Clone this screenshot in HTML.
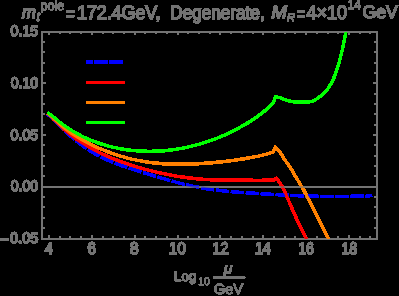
<!DOCTYPE html>
<html><head><meta charset="utf-8"><style>
html,body{margin:0;padding:0;background:#000;width:399px;height:296px;overflow:hidden}
svg{display:block;will-change:transform}
text{font-family:"Liberation Sans",sans-serif;fill:#737373;stroke:#737373;stroke-width:1.0px;text-rendering:geometricPrecision}
</style></head><body>
<svg width="399" height="296" viewBox="0 0 399 296">
<rect width="399" height="296" fill="#000"/>
<filter id="hard" x="0" y="0" width="399" height="296" filterUnits="userSpaceOnUse"><feComponentTransfer><feFuncA type="discrete" tableValues="0 1 1 1 1 1 1 1 1 1"/></feComponentTransfer></filter>
<g filter="url(#hard)">
<g fill="#737373">
<rect x="41" y="31" width="2" height="209"/>
<rect x="376" y="31" width="2" height="209"/>
<rect x="41" y="31" width="337" height="2"/>
<rect x="41" y="238" width="337" height="2"/>
<rect x="41" y="186" width="337" height="2"/>
<rect x="48.00" y="235.00" width="2.00" height="5.00"/><rect x="48.00" y="31.00" width="2.00" height="4.00"/><rect x="59.00" y="236.00" width="2.00" height="4.00"/><rect x="59.00" y="31.00" width="2.00" height="3.00"/><rect x="69.00" y="236.00" width="2.00" height="4.00"/><rect x="69.00" y="31.00" width="2.00" height="3.00"/><rect x="80.00" y="236.00" width="2.00" height="4.00"/><rect x="80.00" y="31.00" width="2.00" height="3.00"/><rect x="91.00" y="235.00" width="2.00" height="5.00"/><rect x="91.00" y="31.00" width="2.00" height="4.00"/><rect x="102.00" y="236.00" width="2.00" height="4.00"/><rect x="102.00" y="31.00" width="2.00" height="3.00"/><rect x="112.00" y="236.00" width="2.00" height="4.00"/><rect x="112.00" y="31.00" width="2.00" height="3.00"/><rect x="123.00" y="236.00" width="2.00" height="4.00"/><rect x="123.00" y="31.00" width="2.00" height="3.00"/><rect x="134.00" y="235.00" width="2.00" height="5.00"/><rect x="134.00" y="31.00" width="2.00" height="4.00"/><rect x="144.00" y="236.00" width="2.00" height="4.00"/><rect x="144.00" y="31.00" width="2.00" height="3.00"/><rect x="155.00" y="236.00" width="2.00" height="4.00"/><rect x="155.00" y="31.00" width="2.00" height="3.00"/><rect x="166.00" y="236.00" width="2.00" height="4.00"/><rect x="166.00" y="31.00" width="2.00" height="3.00"/><rect x="177.00" y="235.00" width="2.00" height="5.00"/><rect x="177.00" y="31.00" width="2.00" height="4.00"/><rect x="187.00" y="236.00" width="2.00" height="4.00"/><rect x="187.00" y="31.00" width="2.00" height="3.00"/><rect x="198.00" y="236.00" width="2.00" height="4.00"/><rect x="198.00" y="31.00" width="2.00" height="3.00"/><rect x="209.00" y="236.00" width="2.00" height="4.00"/><rect x="209.00" y="31.00" width="2.00" height="3.00"/><rect x="219.00" y="235.00" width="2.00" height="5.00"/><rect x="219.00" y="31.00" width="2.00" height="4.00"/><rect x="230.00" y="236.00" width="2.00" height="4.00"/><rect x="230.00" y="31.00" width="2.00" height="3.00"/><rect x="241.00" y="236.00" width="2.00" height="4.00"/><rect x="241.00" y="31.00" width="2.00" height="3.00"/><rect x="252.00" y="236.00" width="2.00" height="4.00"/><rect x="252.00" y="31.00" width="2.00" height="3.00"/><rect x="262.00" y="235.00" width="2.00" height="5.00"/><rect x="262.00" y="31.00" width="2.00" height="4.00"/><rect x="273.00" y="236.00" width="2.00" height="4.00"/><rect x="273.00" y="31.00" width="2.00" height="3.00"/><rect x="284.00" y="236.00" width="2.00" height="4.00"/><rect x="284.00" y="31.00" width="2.00" height="3.00"/><rect x="294.00" y="236.00" width="2.00" height="4.00"/><rect x="294.00" y="31.00" width="2.00" height="3.00"/><rect x="305.00" y="235.00" width="2.00" height="5.00"/><rect x="305.00" y="31.00" width="2.00" height="4.00"/><rect x="316.00" y="236.00" width="2.00" height="4.00"/><rect x="316.00" y="31.00" width="2.00" height="3.00"/><rect x="327.00" y="236.00" width="2.00" height="4.00"/><rect x="327.00" y="31.00" width="2.00" height="3.00"/><rect x="337.00" y="236.00" width="2.00" height="4.00"/><rect x="337.00" y="31.00" width="2.00" height="3.00"/><rect x="348.00" y="235.00" width="2.00" height="5.00"/><rect x="348.00" y="31.00" width="2.00" height="4.00"/><rect x="359.00" y="236.00" width="2.00" height="4.00"/><rect x="359.00" y="31.00" width="2.00" height="3.00"/><rect x="369.00" y="236.00" width="2.00" height="4.00"/><rect x="369.00" y="31.00" width="2.00" height="3.00"/><rect x="41.00" y="238.00" width="5.00" height="2.00"/><rect x="373.00" y="238.00" width="5.00" height="2.00"/><rect x="41.00" y="227.00" width="4.00" height="2.00"/><rect x="374.00" y="227.00" width="4.00" height="2.00"/><rect x="41.00" y="217.00" width="4.00" height="2.00"/><rect x="374.00" y="217.00" width="4.00" height="2.00"/><rect x="41.00" y="206.00" width="4.00" height="2.00"/><rect x="374.00" y="206.00" width="4.00" height="2.00"/><rect x="41.00" y="196.00" width="4.00" height="2.00"/><rect x="374.00" y="196.00" width="4.00" height="2.00"/><rect x="41.00" y="186.00" width="5.00" height="2.00"/><rect x="373.00" y="186.00" width="5.00" height="2.00"/><rect x="41.00" y="175.00" width="4.00" height="2.00"/><rect x="374.00" y="175.00" width="4.00" height="2.00"/><rect x="41.00" y="165.00" width="4.00" height="2.00"/><rect x="374.00" y="165.00" width="4.00" height="2.00"/><rect x="41.00" y="155.00" width="4.00" height="2.00"/><rect x="374.00" y="155.00" width="4.00" height="2.00"/><rect x="41.00" y="144.00" width="4.00" height="2.00"/><rect x="374.00" y="144.00" width="4.00" height="2.00"/><rect x="41.00" y="134.00" width="5.00" height="2.00"/><rect x="373.00" y="134.00" width="5.00" height="2.00"/><rect x="41.00" y="124.00" width="4.00" height="2.00"/><rect x="374.00" y="124.00" width="4.00" height="2.00"/><rect x="41.00" y="113.00" width="4.00" height="2.00"/><rect x="374.00" y="113.00" width="4.00" height="2.00"/><rect x="41.00" y="103.00" width="4.00" height="2.00"/><rect x="374.00" y="103.00" width="4.00" height="2.00"/><rect x="41.00" y="93.00" width="4.00" height="2.00"/><rect x="374.00" y="93.00" width="4.00" height="2.00"/><rect x="41.00" y="82.00" width="5.00" height="2.00"/><rect x="373.00" y="82.00" width="5.00" height="2.00"/><rect x="41.00" y="72.00" width="4.00" height="2.00"/><rect x="374.00" y="72.00" width="4.00" height="2.00"/><rect x="41.00" y="62.00" width="4.00" height="2.00"/><rect x="374.00" y="62.00" width="4.00" height="2.00"/><rect x="41.00" y="51.00" width="4.00" height="2.00"/><rect x="374.00" y="51.00" width="4.00" height="2.00"/><rect x="41.00" y="41.00" width="4.00" height="2.00"/><rect x="374.00" y="41.00" width="4.00" height="2.00"/><rect x="41.00" y="31.00" width="5.00" height="2.00"/><rect x="373.00" y="31.00" width="5.00" height="2.00"/>
</g>
<defs><clipPath id="c"><rect x="42" y="32" width="335" height="207"/></clipPath></defs>
<g clip-path="url(#c)" fill="none" stroke-linejoin="miter" stroke-miterlimit="10" stroke-width="2.8">
<path d="M47.50,114.41 L49.50,115.94 L51.50,117.67 L53.50,119.54 L55.50,121.52 L57.50,123.56 L59.50,125.60 L61.50,127.61 L63.50,129.56 L65.50,131.47 L67.50,133.33 L69.50,135.14 L71.50,136.90 L73.50,138.61 L75.50,140.27 L77.50,141.87 L79.50,143.43 L81.50,144.94 L83.50,146.39 L85.50,147.80 L87.50,149.15 L89.50,150.45 L91.50,151.70 L93.50,152.90 L95.50,154.05 L97.50,155.15 L99.50,156.21 L101.50,157.23 L103.50,158.21 L105.50,159.15 L107.50,160.06 L109.50,160.93 L111.50,161.77 L113.50,162.58 L115.50,163.37 L117.50,164.13 L119.50,164.86 L121.50,165.57 L123.50,166.27 L125.50,166.95 L127.50,167.61 L129.50,168.26 L131.50,168.90 L133.50,169.53 L135.50,170.16 L137.50,170.78 L139.50,171.40 L141.50,172.02 L143.50,172.63 L145.50,173.25 L147.50,173.86 L149.50,174.48 L151.50,175.09 L153.50,175.70 L155.50,176.30 L157.50,176.90 L159.50,177.49 L161.50,178.08 L163.50,178.67 L165.50,179.25 L167.50,179.82 L169.50,180.38 L171.50,180.93 L173.50,181.48 L175.50,182.02 L177.50,182.54 L179.50,183.06 L181.50,183.57 L183.50,184.06 L185.50,184.54 L187.50,185.01 L189.50,185.47 L191.50,185.91 L193.50,186.33 L195.50,186.75 L197.50,187.14 L199.50,187.52 L201.50,187.89 L203.50,188.24 L205.50,188.57 L207.50,188.89 L209.50,189.19 L211.50,189.48 L213.50,189.75 L215.50,190.01 L217.50,190.26 L219.50,190.50 L221.50,190.72 L223.50,190.94 L225.50,191.14 L227.50,191.34 L229.50,191.52 L231.50,191.70 L233.50,191.87 L235.50,192.03 L237.50,192.19 L239.50,192.34 L241.50,192.48 L243.50,192.62 L245.50,192.76 L247.50,192.89 L249.50,193.01 L251.50,193.14 L253.50,193.26 L255.50,193.38 L257.50,193.50 L259.50,193.61 L261.50,193.73 L263.50,193.85 L265.50,193.97 L267.50,194.08 L269.50,194.20 L271.50,194.32 L273.50,194.43 L275.50,194.54 L277.50,194.66 L279.50,194.77 L281.50,194.87 L283.50,194.98 L285.50,195.08 L287.50,195.18 L289.50,195.28 L291.50,195.38 L293.50,195.47 L295.50,195.56 L297.50,195.65 L299.50,195.73 L301.50,195.81 L303.50,195.88 L305.50,195.95 L307.50,196.01 L309.50,196.07 L311.50,196.13 L313.50,196.18 L315.50,196.22 L317.50,196.26 L319.50,196.29 L321.50,196.32 L323.50,196.34 L325.50,196.36 L327.50,196.37 L329.50,196.38 L331.50,196.38 L333.50,196.38 L335.50,196.37 L337.50,196.36 L339.50,196.35 L341.50,196.34 L343.50,196.32 L345.50,196.31 L347.50,196.29 L349.50,196.27 L351.50,196.25 L353.50,196.23 L355.50,196.21 L357.50,196.19 L359.50,196.17 L361.50,196.16 L363.50,196.14 L365.50,196.13 L367.50,196.12 L369.00,196.11 L371.90,195.20" stroke="#0000ff" stroke-dasharray="13 2" stroke-dashoffset="6.27"/>
<path d="M47.50,113.70 L49.50,115.26 L51.50,117.04 L53.50,118.96 L55.50,120.98 L57.50,123.05 L59.50,125.09 L61.50,127.06 L63.50,128.95 L65.50,130.75 L67.50,132.48 L69.50,134.13 L71.50,135.71 L73.50,137.22 L75.50,138.67 L77.50,140.06 L79.50,141.40 L81.50,142.69 L83.50,143.93 L85.50,145.12 L87.50,146.28 L89.50,147.41 L91.50,148.50 L93.50,149.57 L95.50,150.60 L97.50,151.61 L99.50,152.59 L101.50,153.55 L103.50,154.48 L105.50,155.39 L107.50,156.27 L109.50,157.13 L111.50,157.96 L113.50,158.77 L115.50,159.56 L117.50,160.33 L119.50,161.08 L121.50,161.81 L123.50,162.53 L125.50,163.22 L127.50,163.90 L129.50,164.56 L131.50,165.20 L133.50,165.83 L135.50,166.44 L137.50,167.04 L139.50,167.63 L141.50,168.20 L143.50,168.76 L145.50,169.31 L147.50,169.84 L149.50,170.36 L151.50,170.87 L153.50,171.37 L155.50,171.85 L157.50,172.32 L159.50,172.78 L161.50,173.22 L163.50,173.65 L165.50,174.07 L167.50,174.47 L169.50,174.86 L171.50,175.24 L173.50,175.60 L175.50,175.95 L177.50,176.28 L179.50,176.60 L181.50,176.91 L183.50,177.20 L185.50,177.48 L187.50,177.74 L189.50,177.99 L191.50,178.22 L193.50,178.44 L195.50,178.64 L197.50,178.83 L199.50,179.01 L201.50,179.17 L203.50,179.32 L205.50,179.45 L207.50,179.57 L209.50,179.67 L211.50,179.77 L213.50,179.85 L215.50,179.92 L217.50,179.99 L219.50,180.04 L221.50,180.09 L223.50,180.13 L225.50,180.16 L227.50,180.19 L229.50,180.21 L231.50,180.22 L233.50,180.24 L235.50,180.24 L237.50,180.25 L239.50,180.25 L241.50,180.26 L243.50,180.26 L245.50,180.26 L247.50,180.26 L249.50,180.27 L251.50,180.27 L253.50,180.28 L255.50,180.28 L257.50,180.29 L259.50,180.29 L261.50,180.28 L263.50,180.26 L265.50,180.24 L267.50,180.20 L269.50,180.15 L271.50,180.08 L273.50,180.00  L276.30,178.30 C277.05,179.28 279.48,182.22 280.80,184.20 C282.12,186.18 282.45,186.42 284.20,190.20 C285.95,193.98 288.85,201.30 291.30,206.90 C293.75,212.50 296.65,219.02 298.90,223.80 C301.15,228.58 303.37,232.57 304.80,235.60 C306.23,238.63 307.05,240.93 307.50,242.00" stroke="#ff0000"/>
<path d="M47.50,113.50 L49.50,115.09 L51.50,116.80 L53.50,118.61 L55.50,120.46 L57.50,122.32 L59.50,124.15 L61.50,125.91 L63.50,127.59 L65.50,129.19 L67.50,130.72 L69.50,132.17 L71.50,133.57 L73.50,134.90 L75.50,136.17 L77.50,137.40 L79.50,138.57 L81.50,139.70 L83.50,140.78 L85.50,141.83 L87.50,142.85 L89.50,143.84 L91.50,144.80 L93.50,145.74 L95.50,146.65 L97.50,147.54 L99.50,148.41 L101.50,149.25 L103.50,150.07 L105.50,150.86 L107.50,151.63 L109.50,152.38 L111.50,153.10 L113.50,153.80 L115.50,154.48 L117.50,155.13 L119.50,155.76 L121.50,156.36 L123.50,156.94 L125.50,157.50 L127.50,158.03 L129.50,158.54 L131.50,159.03 L133.50,159.49 L135.50,159.93 L137.50,160.34 L139.50,160.73 L141.50,161.10 L143.50,161.45 L145.50,161.77 L147.50,162.07 L149.50,162.35 L151.50,162.61 L153.50,162.84 L155.50,163.06 L157.50,163.26 L159.50,163.44 L161.50,163.59 L163.50,163.73 L165.50,163.86 L167.50,163.96 L169.50,164.05 L171.50,164.12 L173.50,164.18 L175.50,164.22 L177.50,164.24 L179.50,164.25 L181.50,164.25 L183.50,164.23 L185.50,164.20 L187.50,164.15 L189.50,164.10 L191.50,164.03 L193.50,163.95 L195.50,163.86 L197.50,163.76 L199.50,163.65 L201.50,163.53 L203.50,163.40 L205.50,163.26 L207.50,163.11 L209.50,162.95 L211.50,162.79 L213.50,162.61 L215.50,162.42 L217.50,162.23 L219.50,162.02 L221.50,161.81 L223.50,161.59 L225.50,161.35 L227.50,161.11 L229.50,160.86 L231.50,160.60 L233.50,160.33 L235.50,160.05 L237.50,159.76 L239.50,159.46 L241.50,159.15 L243.50,158.83 L245.50,158.50 L247.50,158.17 L249.50,157.82 L251.50,157.46 L253.50,157.09 L255.50,156.71 L257.50,156.30 L259.50,155.87 L261.50,155.40 L263.50,154.90 L265.50,154.37 L267.50,153.79 L269.50,153.16 L271.50,152.48 L273.50,151.74  L275.30,147.30 C275.85,147.82 277.12,148.47 278.60,150.40 C280.08,152.33 282.28,156.08 284.20,158.90 C286.12,161.72 288.28,164.48 290.10,167.30 C291.92,170.12 293.42,172.98 295.10,175.80 C296.78,178.62 298.72,181.75 300.20,184.20 C301.68,186.65 301.97,186.72 304.00,190.50 C306.03,194.28 309.58,201.35 312.40,206.90 C315.22,212.45 318.50,219.02 320.90,223.80 C323.30,228.58 325.28,232.57 326.80,235.60 C328.32,238.63 329.47,240.93 330.00,242.00" stroke="#ff8000"/>
<path d="M47.50,112.70 L49.50,114.09 L51.50,115.60 L53.50,117.19 L55.50,118.83 L57.50,120.48 L59.50,122.10 L61.50,123.67 L63.50,125.17 L65.50,126.61 L67.50,127.98 L69.50,129.29 L71.50,130.55 L73.50,131.75 L75.50,132.89 L77.50,133.99 L79.50,135.04 L81.50,136.04 L83.50,137.00 L85.50,137.92 L87.50,138.80 L89.50,139.64 L91.50,140.45 L93.50,141.23 L95.50,141.98 L97.50,142.69 L99.50,143.37 L101.50,144.03 L103.50,144.65 L105.50,145.24 L107.50,145.80 L109.50,146.33 L111.50,146.83 L113.50,147.31 L115.50,147.75 L117.50,148.17 L119.50,148.56 L121.50,148.92 L123.50,149.25 L125.50,149.56 L127.50,149.84 L129.50,150.10 L131.50,150.33 L133.50,150.54 L135.50,150.72 L137.50,150.87 L139.50,151.00 L141.50,151.11 L143.50,151.19 L145.50,151.25 L147.50,151.29 L149.50,151.30 L151.50,151.29 L153.50,151.26 L155.50,151.20 L157.50,151.12 L159.50,151.02 L161.50,150.89 L163.50,150.74 L165.50,150.57 L167.50,150.37 L169.50,150.15 L171.50,149.91 L173.50,149.64 L175.50,149.35 L177.50,149.04 L179.50,148.70 L181.50,148.34 L183.50,147.96 L185.50,147.56 L187.50,147.13 L189.50,146.68 L191.50,146.21 L193.50,145.72 L195.50,145.20 L197.50,144.66 L199.50,144.10 L201.50,143.51 L203.50,142.90 L205.50,142.27 L207.50,141.62 L209.50,140.94 L211.50,140.23 L213.50,139.51 L215.50,138.75 L217.50,137.97 L219.50,137.17 L221.50,136.34 L223.50,135.48 L225.50,134.60 L227.50,133.69 L229.50,132.75 L231.50,131.79 L233.50,130.79 L235.50,129.77 L237.50,128.72 L239.50,127.63 L241.50,126.52 L243.50,125.38 L245.50,124.21 L247.50,123.00 L249.50,121.77 L251.50,120.50 L253.50,119.20 L255.50,117.85 L257.50,116.45 L259.50,114.99 L261.50,113.47 L263.50,111.87 L265.50,110.19 L267.50,108.42 L269.50,106.56 L271.50,104.59 L273.50,102.52  L275.30,97.00 C276.08,97.12 278.55,97.33 280.00,97.70 C281.45,98.07 282.33,98.62 284.00,99.20 C285.67,99.78 287.95,100.72 290.00,101.20 C292.05,101.68 294.22,101.93 296.30,102.10 C298.38,102.27 300.42,102.22 302.50,102.20 C304.58,102.18 306.72,102.38 308.80,102.00 C310.88,101.62 312.92,100.98 315.00,99.90 C317.08,98.82 319.20,97.28 321.30,95.50 C323.40,93.72 325.63,91.83 327.60,89.20 C329.57,86.57 331.67,82.65 333.10,79.70 C334.53,76.75 335.22,74.28 336.20,71.50 C337.18,68.72 338.15,65.92 339.00,63.00 C339.85,60.08 340.60,56.88 341.30,54.00 C342.00,51.12 342.45,49.23 343.20,45.70 C343.95,42.17 345.08,36.33 345.80,32.80 C346.52,29.27 347.22,25.88 347.50,24.50" stroke="#00ff00"/>
</g>
<rect x="41" y="186" width="337" height="2" fill="#737373" opacity="0.5"/>
<g>
<rect x="86" y="60" width="6.9" height="3.6" fill="#0000ff"/>
<rect x="94" y="60" width="13.8" height="3.6" fill="#0000ff"/>
<rect x="109" y="60" width="14" height="3.6" fill="#0000ff"/>
<rect x="86" y="81" width="39" height="3" fill="#ff0000"/>
<rect x="86" y="101" width="39" height="3" fill="#ff8000"/>
<rect x="86" y="121" width="39" height="3" fill="#00ff00"/>
</g>
<g>
<text id="t_m" x="21.97" y="18.00" font-size="17.6" font-style="italic" textLength="13.75" lengthAdjust="spacingAndGlyphs">m</text>
<text id="t_t" x="36.47" y="21.10" font-size="13" font-style="italic" style="stroke-width:0.55px" textLength="3.26" lengthAdjust="spacingAndGlyphs">t</text>
<text id="t_pole" x="40.47" y="9.90" font-size="13.3" style="stroke-width:0.55px" textLength="23.90" lengthAdjust="spacingAndGlyphs">pole</text>
<text id="t_eq" x="66.21" y="19.60" font-size="19" textLength="8.39" lengthAdjust="spacingAndGlyphs">=</text>
<text id="t_172" x="76.95" y="18.50" font-size="19.3" textLength="83.62" lengthAdjust="spacingAndGlyphs">172.4GeV,</text>
<text id="t_deg" x="170.25" y="18.50" font-size="19.3" textLength="94.40" lengthAdjust="spacingAndGlyphs">Degenerate,</text>
<text id="t_M" x="271.46" y="18.20" font-size="17.8" font-style="italic" textLength="15.27" lengthAdjust="spacingAndGlyphs">M</text>
<text id="t_R" x="286.72" y="20.70" font-size="11" font-style="italic" style="stroke-width:0.55px" textLength="8.42" lengthAdjust="spacingAndGlyphs">R</text>
<text id="t_eq4" x="296.77" y="19.60" font-size="19" textLength="8.55" lengthAdjust="spacingAndGlyphs">=</text>
<text id="t_410" x="306.41" y="18.50" font-size="19.3" textLength="40.55" lengthAdjust="spacingAndGlyphs">4×10</text>
<text id="t_14" x="347.63" y="9.30" font-size="13.0" style="stroke-width:0.55px" textLength="13.09" lengthAdjust="spacingAndGlyphs">14</text>
<text id="t_GeV" x="362.49" y="18.00" font-size="18.0" textLength="35.16" lengthAdjust="spacingAndGlyphs">GeV</text>
<text id="a_log" x="174.06" y="281.40" font-size="13.8" style="stroke-width:0.6px" textLength="22.27" lengthAdjust="spacingAndGlyphs">Log</text>
<text id="a_10" x="198.31" y="285.20" font-size="11" style="stroke-width:0.55px" textLength="11.39" lengthAdjust="spacingAndGlyphs">10</text>
<text id="a_mu" x="223.75" y="272.50" font-size="14" font-style="italic" style="stroke-width:0.6px" textLength="8.57" lengthAdjust="spacingAndGlyphs">μ</text>
<text id="a_gev" x="213.70" y="293.60" font-size="14.5" style="stroke-width:0.6px" textLength="29.44" lengthAdjust="spacingAndGlyphs">GeV</text>
<text id="y015" x="10.55" y="36.00" font-size="15.3" textLength="27.65" lengthAdjust="spacingAndGlyphs">0.15</text>
<text id="y010" x="10.66" y="87.83" font-size="15.3" textLength="27.43" lengthAdjust="spacingAndGlyphs">0.10</text>
<text id="y005" x="10.55" y="139.66" font-size="15.3" textLength="27.65" lengthAdjust="spacingAndGlyphs">0.05</text>
<text id="y000" x="10.66" y="191.10" font-size="15.3" textLength="27.39" lengthAdjust="spacingAndGlyphs">0.00</text>
<text id="ym05" x="10.04" y="242.53" font-size="15.3" textLength="28.30" lengthAdjust="spacingAndGlyphs">0.05</text>
<text id="x4" x="44.89" y="254.10" font-size="16.8" textLength="7.95" lengthAdjust="spacingAndGlyphs">4</text>
<text id="x6" x="87.53" y="254.10" font-size="16.8" textLength="8.51" lengthAdjust="spacingAndGlyphs">6</text>
<text id="x8" x="129.79" y="254.10" font-size="16.8" textLength="8.95" lengthAdjust="spacingAndGlyphs">8</text>
<text id="x10" x="169.10" y="254.10" font-size="16.8" textLength="16.75" lengthAdjust="spacingAndGlyphs">10</text>
<text id="x12" x="212.34" y="254.10" font-size="16.8" textLength="16.17" lengthAdjust="spacingAndGlyphs">12</text>
<text id="x14" x="254.94" y="254.10" font-size="16.8" textLength="15.81" lengthAdjust="spacingAndGlyphs">14</text>
<text id="x16" x="298.18" y="254.10" font-size="16.8" textLength="15.88" lengthAdjust="spacingAndGlyphs">16</text>
<text id="x18" x="341.81" y="254.10" font-size="16.8" textLength="15.33" lengthAdjust="spacingAndGlyphs">18</text>
<rect x="0" y="238.0" width="8.8" height="2.8" fill="#737373"/>
<rect id="a_bar" x="213.3" y="276.3" width="31.8" height="2.3" fill="#737373"/>
</g>
</g>
</svg>
</body></html>
